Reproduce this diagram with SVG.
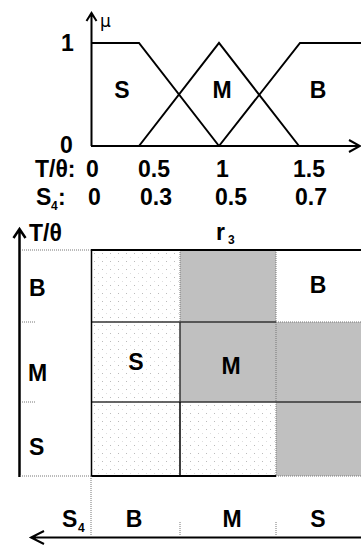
<svg xmlns="http://www.w3.org/2000/svg" width="361" height="549" viewBox="0 0 361 549">
<style>
.t{font-family:"Liberation Sans",Arial,sans-serif;font-weight:bold;font-size:23px;fill:#000}
.sub{font-family:"Liberation Sans",Arial,sans-serif;font-weight:bold;font-size:12px;fill:#000}
.ln{fill:none;stroke:#000;stroke-width:2}
.dot{fill:none;stroke:#777;stroke-width:1;stroke-dasharray:1 1}
.dk{fill:none;stroke:#333;stroke-width:1.5}
</style>
<defs>
<pattern id="stip" x="91" y="250" width="8" height="8" patternUnits="userSpaceOnUse">
<rect width="8" height="8" fill="#fff"/>
<rect x="3" y="3" width="1" height="1" fill="#bbb"/>
<rect x="7" y="7" width="1" height="1" fill="#ddd"/>
</pattern>
</defs>
<g id="membership-chart">
<path class="ln" d="M91.5,146 V14 M86.5,21 L91.5,13 L96.5,21"/>
<path class="ln" d="M91,146 H359 M349,140 L360,146 L349,152"/>
<path class="ln" d="M91,43 H139 L219,146"/>
<path class="ln" d="M139,146 L219,43 L299,146"/>
<path class="ln" d="M219,146 L300,43 H361"/>
<text x="100" y="27" style="font-family:'DejaVu Sans',sans-serif;font-size:17px">μ</text>
<text class="t" x="61" y="51">1</text>
<text class="t" x="60" y="153">0</text>
<text class="t" x="122" y="98" text-anchor="middle">S</text>
<text class="t" x="222" y="98" text-anchor="middle">M</text>
<text class="t" x="318" y="98" text-anchor="middle">B</text>
</g>
<g id="scale-labels">
<text class="t" x="35" y="177">T/θ:</text>
<text class="t" x="86" y="177">0</text>
<text class="t" x="138" y="177">0.5</text>
<text class="t" x="216" y="177">1</text>
<text class="t" x="293" y="177">1.5</text>
<text class="t" x="36" y="205">S</text>
<text class="sub" x="51" y="210">4</text>
<text class="t" x="58" y="205">:</text>
<text class="t" x="88" y="205">0</text>
<text class="t" x="140" y="205">0.3</text>
<text class="t" x="215" y="205">0.5</text>
<text class="t" x="295" y="205">0.7</text>
</g>
<g id="rule-table">
<rect x="91" y="250" width="89" height="226" fill="url(#stip)"/>
<rect x="180" y="402" width="96" height="74" fill="url(#stip)"/>
<rect x="180" y="250" width="96" height="152" fill="#c0c0c0"/>
<rect x="276" y="322" width="85" height="154" fill="#c0c0c0"/>
<path class="dot" d="M180,250 V322"/>
<path class="dot" d="M276,250 V476"/>
<path class="dot" d="M276,322 H361"/>
<path class="dot" d="M276,476 H361"/>
<path class="dk" d="M91,322 H276"/>
<path class="dk" d="M91,402 H361"/>
<path class="dk" d="M180,322 V402"/>
<path style="fill:none;stroke:#000;stroke-width:1.5" d="M180,402 V476 M91.5,250 V476"/>
<path class="ln" d="M91,250 H361"/>
<path class="ln" d="M91,476 H276"/>
<text class="t" x="318" y="293" text-anchor="middle">B</text>
<text class="t" x="136" y="370" text-anchor="middle">S</text>
<text class="t" x="231" y="374" text-anchor="middle">M</text>
</g>
<g id="axis-T">
<path style="fill:none;stroke:#000;stroke-width:2.5" d="M19.5,477 V230 M13.5,238 L19.5,229 L25.5,238"/>
<path class="dot" d="M22,250 H91 M22,322 H36 M22,402 H36 M20,476 H91"/>
<text class="t" x="29" y="241">T/θ</text>
<text class="t" x="29" y="296">B</text>
<text class="t" x="28" y="381">M</text>
<text class="t" x="29" y="455">S</text>
</g>
<g id="axis-r3">
<text class="t" x="216" y="240">r</text>
<text class="sub" x="228" y="244">3</text>
</g>
<g id="axis-S4">
<path class="ln" d="M31,537.5 H361 M44,531 L31,537.5 L44,544"/>
<path class="dot" d="M91,476 V536 M180,522 V536 M276,522 V536"/>
<text class="t" x="62" y="527">S</text>
<text class="sub" x="78" y="532">4</text>
<text class="t" x="134" y="527" text-anchor="middle">B</text>
<text class="t" x="232" y="527" text-anchor="middle">M</text>
<text class="t" x="318" y="527" text-anchor="middle">S</text>
</g>
</svg>
